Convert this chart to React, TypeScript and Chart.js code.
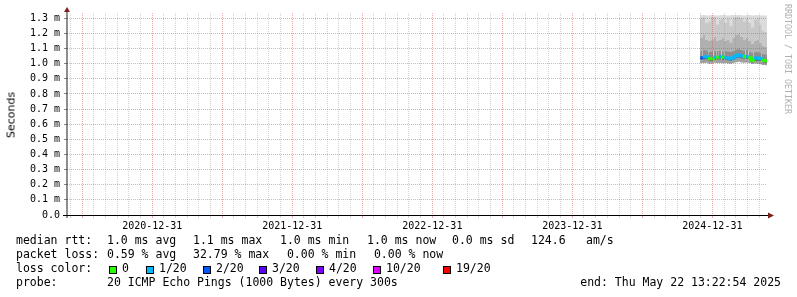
import React, { useEffect, useRef } from 'react';
import { Chart, registerables } from 'chart.js';

Chart.register(...registerables);

// ---------- data ----------
const START_TIME = '2020-05-22T13:22:54Z';
const END_TIME = '2025-05-22T13:22:54Z';

const xTickLabels = ['2020-12-31', '2021-12-31', '2022-12-31', '2023-12-31', '2024-12-31'];
const yTickValues = [0, 0.1, 0.2, 0.3, 0.4, 0.5, 0.6, 0.7, 0.8, 0.9, 1.0, 1.1, 1.2, 1.3];
const yTickLabels = ['0.0', '0.1 m', '0.2 m', '0.3 m', '0.4 m', '0.5 m', '0.6 m', '0.7 m', '0.8 m', '0.9 m', '1.0 m', '1.1 m', '1.2 m', '1.3 m'];
const Y_MAX = 1.335;

const sampleDates = [
  '2024-11-29', '2024-12-06', '2024-12-13', '2024-12-20', '2024-12-27', '2025-01-03',
  '2025-01-10', '2025-01-17', '2025-01-24', '2025-01-31', '2025-02-07', '2025-02-14',
  '2025-02-21', '2025-02-28', '2025-03-07', '2025-03-14', '2025-03-21', '2025-03-28',
  '2025-04-04', '2025-04-11', '2025-04-18', '2025-04-25', '2025-05-02', '2025-05-09',
  '2025-05-16', '2025-05-22T13:22:54Z',
];
const medianRtt = [
  1.040, 1.046, 1.046, 1.033, 1.033, 1.043, 1.043, 1.046, 1.043, 1.040, 1.037, 1.033, 1.040,
  1.053, 1.057, 1.050, 1.046, 1.046, 1.040, 1.023, 1.037, 1.037, 1.033, 1.023, 1.020, 1.020,
];
const lossCount = [2, 1, 1, 0, 0, 1, 0, 1, 0, 1, 1, 1, 1, 1, 1, 1, 0, 1, 0, 0, 1, 1, 1, 0, 0, 0];
const smokeMin = [
  1.005, 1.004, 1.006, 1.000, 1.002, 1.006, 1.004, 1.005, 1.003, 1.004, 1.002, 1.000, 1.004,
  1.010, 1.012, 1.008, 1.006, 1.008, 1.004, 0.998, 1.002, 1.000, 0.997, 0.992, 0.990, 0.990,
];
const smokeLow = [
  1.022, 1.026, 1.026, 1.015, 1.015, 1.025, 1.024, 1.026, 1.024, 1.022, 1.019, 1.016, 1.022,
  1.034, 1.038, 1.032, 1.028, 1.029, 1.022, 1.006, 1.018, 1.018, 1.014, 1.006, 1.003, 1.003,
];
const smokeHigh1 = [
  1.085, 1.090, 1.088, 1.080, 1.082, 1.085, 1.086, 1.084, 1.083, 1.086, 1.082, 1.080, 1.086,
  1.095, 1.097, 1.092, 1.088, 1.090, 1.082, 1.070, 1.080, 1.078, 1.075, 1.065, 1.062, 1.062,
];
const smokeHigh2 = [
  1.17, 1.19, 1.16, 1.15, 1.16, 1.18, 1.15, 1.16, 1.17, 1.15, 1.16, 1.14, 1.17,
  1.19, 1.20, 1.18, 1.16, 1.17, 1.15, 1.13, 1.15, 1.16, 1.14, 1.12, 1.11, 1.11,
];
const smokeHigh3 = [
  1.30, 1.31, 1.27, 1.28, 1.31, 1.31, 1.26, 1.29, 1.30, 1.27, 1.30, 1.25, 1.30,
  1.31, 1.31, 1.30, 1.28, 1.30, 1.27, 1.24, 1.29, 1.30, 1.26, 1.22, 1.21, 1.21,
];
const smokeMax = [
  1.320, 1.321, 1.319, 1.320, 1.321, 1.320, 1.319, 1.320, 1.321, 1.320, 1.319, 1.320, 1.321,
  1.320, 1.321, 1.320, 1.319, 1.320, 1.321, 1.318, 1.320, 1.320, 1.319, 1.318, 1.318, 1.318,
];

const lossThresholds = [0, 1, 2, 3, 4, 10, 19];
const lossLabels = ['0', '1/20', '2/20', '3/20', '4/20', '10/20', '19/20'];
const lossColors = ['#26ff00', '#00b8ff', '#0059ff', '#5e00ff', '#7e00ff', '#dd00ff', '#ff0000'];

const rttStats = ['1.0 ms avg', '1.1 ms max', '1.0 ms min', '1.0 ms now', '0.0 ms sd', '124.6', 'am/s'];
const lossStats = ['0.59 % avg', '32.79 % max', ' 0.00 % min', ' 0.00 % now'];
const probeText = '20 ICMP Echo Pings (1000 Bytes) every 300s';
const endText = 'end: Thu May 22 13:22:54 2025';

// ---------- styling ----------
const MONO = '"DejaVu Sans Mono", monospace';
const MAJOR_GRID = 'rgba(220,40,40,0.4)';
const MINOR_GRID = 'rgba(143,143,143,0.38)';
const rttCols = [107, 193, 280, 367, 452, 531, 586];
const lossBoxCols = [109, 146, 203, 259, 316, 373, 443];

const toMs = (s: string) => Date.parse(s.length === 10 ? s + 'T00:00:00Z' : s);
const pts = (arr: number[]) => sampleDates.map((d, i) => ({ x: toMs(d), y: arr[i] }));
const lossColor = (c: number) => {
  let idx = 0;
  lossThresholds.forEach((th, i) => { if (c >= th) idx = i; });
  return lossColors[idx];
};

function buildXTicks() {
  const base = toMs(xTickLabels[0]);
  const step = (365.25 * 86400000) / 12;
  const min = toMs(START_TIME);
  const max = toMs(END_TIME);
  const out: any[] = [];
  for (let k = -12; k <= 60; k++) {
    const v = base + k * step;
    if (v <= min || v >= max) continue;
    const lblIdx = k % 12 === 0 ? k / 12 : -1;
    out.push({ value: v, major: k % 6 === 0, lbl: lblIdx >= 0 && lblIdx < xTickLabels.length ? xTickLabels[lblIdx] : '' });
  }
  return out;
}

const axesPlugin = {
  id: 'rrdAxes',
  afterDraw(chart: any) {
    const { ctx } = chart;
    const { left, right, top, bottom } = chart.chartArea;
    ctx.save();
    ctx.strokeStyle = '#1f1f1f';
    ctx.lineWidth = 1;
    ctx.beginPath();
    ctx.moveTo(left, bottom + 3);
    ctx.lineTo(left, top - 2);
    ctx.stroke();
    ctx.strokeStyle = '#000';
    ctx.beginPath();
    ctx.moveTo(left - 4, bottom + 0.5);
    ctx.lineTo(right + 2, bottom + 0.5);
    ctx.stroke();
    ctx.fillStyle = '#801f1f';
    ctx.beginPath();
    ctx.moveTo(left, top - 6);
    ctx.lineTo(left - 3, top - 1);
    ctx.lineTo(left + 3, top - 1);
    ctx.closePath();
    ctx.fill();
    ctx.beginPath();
    ctx.moveTo(right + 7, bottom + 0.5);
    ctx.lineTo(right + 1, bottom - 2.5);
    ctx.lineTo(right + 1, bottom + 3.5);
    ctx.closePath();
    ctx.fill();
    ctx.restore();
  },
};

export default function App() {
  const ref = useRef<HTMLCanvasElement>(null);

  useEffect(() => {
    if (!ref.current) return;
    const band = (data: number[], target: number, color: string) => ({
      data: pts(data),
      borderWidth: 0,
      pointRadius: 0,
      stepped: true,
      fill: { target, above: color, below: color },
    });
    const chart = new Chart(ref.current, {
      type: 'line',
      data: {
        datasets: [
          {
            data: pts(medianRtt),
            borderWidth: 3,
            pointRadius: 0,
            stepped: true,
            borderColor: lossColors[0],
            borderCapStyle: 'butt',
            fill: { target: 2, above: '#6e6e6e', below: '#6e6e6e' },
            segment: { borderColor: (c: any) => lossColor(lossCount[c.p0DataIndex]) },
          } as any,
          { data: pts(smokeMin), borderWidth: 0, pointRadius: 0, stepped: true, fill: false } as any,
          band(smokeLow, 1, '#a0a0a0'),
          band(smokeHigh1, 0, '#8e8e8e'),
          band(smokeHigh2, 3, '#b0b0b0'),
          band(smokeHigh3, 4, '#c8c8c8'),
          band(smokeMax, 5, '#dcdcdc'),
        ],
      },
      options: {
        animation: false,
        responsive: false,
        maintainAspectRatio: false,
        events: [],
        layout: { padding: { top: 13, right: 30, left: 0, bottom: 0 } },
        plugins: { legend: { display: false }, tooltip: { enabled: false } },
        scales: {
          x: {
            type: 'linear',
            min: toMs(START_TIME),
            max: toMs(END_TIME),
            afterBuildTicks: (s: any) => { s.ticks = buildXTicks(); },
            afterFit: (s: any) => { s.height = 82; },
            grid: {
              z: 1,
              color: (c: any) => (c.tick && c.tick.major ? MAJOR_GRID : MINOR_GRID),
              tickColor: (c: any) => (c.tick && c.tick.major ? MAJOR_GRID : MINOR_GRID),
              lineWidth: 1,
              drawTicks: true,
              tickLength: 3,
            },
            border: { display: false, dash: [1, 1] },
            ticks: {
              autoSkip: false,
              maxRotation: 0,
              minRotation: 0,
              padding: 2,
              color: '#000',
              font: { family: MONO, size: 10 },
              callback: (_v: any, i: number, ticks: any[]) => ticks[i].lbl,
            },
          } as any,
          y: {
            type: 'linear',
            min: 0,
            max: Y_MAX,
            afterBuildTicks: (s: any) => { s.ticks = yTickValues.map((v) => ({ value: v })); },
            afterFit: (s: any) => { s.width = 67; },
            grid: { z: 1, color: MAJOR_GRID, lineWidth: 1, drawTicks: true, tickLength: 3, tickColor: '#888' },
            border: { display: false, dash: [1, 1] },
            ticks: {
              padding: 4,
              color: '#000',
              font: { family: MONO, size: 10 },
              callback: (_v: any, i: number) => yTickLabels[i],
            },
          } as any,
        },
      },
      plugins: [axesPlugin],
    });
    return () => chart.destroy();
  }, []);

  const textStyle: React.CSSProperties = {
    position: 'absolute',
    font: `11.5px ${MONO}`,
    lineHeight: '14px',
    whiteSpace: 'pre',
    color: '#000',
  };
  const rowTops = [233, 247, 261, 275];

  return (
    <div style={{ position: 'fixed', left: 0, top: 0, width: 797, height: 297, background: '#fff', overflow: 'hidden' }}>
      <canvas ref={ref} width={797} height={297} style={{ position: 'absolute', left: 0, top: 0, width: 797, height: 297 }} />
      <div
        style={{
          position: 'absolute', left: 11, top: 114.5, transform: 'translate(-50%, -50%) rotate(-90deg)',
          font: '11px "DejaVu Sans", sans-serif', whiteSpace: 'nowrap', color: '#000',
        }}
      >
        Seconds
      </div>
      <div
        style={{
          position: 'absolute', left: 783, top: 4, writingMode: 'vertical-rl',
          font: `8.3px ${MONO}`, color: '#b0b0b0', whiteSpace: 'nowrap',
        }}
      >
        RRDTOOL / TOBI OETIKER
      </div>

      <div style={{ ...textStyle, left: 16, top: rowTops[0] }}>median rtt:</div>
      {rttStats.map((s, i) => (
        <div key={'r' + i} style={{ ...textStyle, left: rttCols[i], top: rowTops[0] }}>{s}</div>
      ))}

      <div style={{ ...textStyle, left: 16, top: rowTops[1] }}>packet loss:</div>
      {lossStats.map((s, i) => (
        <div key={'l' + i} style={{ ...textStyle, left: rttCols[i], top: rowTops[1] }}>{s}</div>
      ))}

      <div style={{ ...textStyle, left: 16, top: rowTops[2] }}>loss color:</div>
      {lossLabels.map((s, i) => (
        <React.Fragment key={'c' + i}>
          <div
            style={{
              position: 'absolute', left: lossBoxCols[i], top: 266, width: 8, height: 8, boxSizing: 'border-box',
              background: lossColors[i], border: '1px solid #000',
            }}
          />
          <div style={{ ...textStyle, left: lossBoxCols[i] + 13, top: rowTops[2] }}>{s}</div>
        </React.Fragment>
      ))}

      <div style={{ ...textStyle, left: 16, top: rowTops[3] }}>probe:</div>
      <div style={{ ...textStyle, left: rttCols[0], top: rowTops[3] }}>{probeText}</div>
      <div style={{ ...textStyle, right: 797 - 781, top: rowTops[3] }}>{endText}</div>
    </div>
  );
}
